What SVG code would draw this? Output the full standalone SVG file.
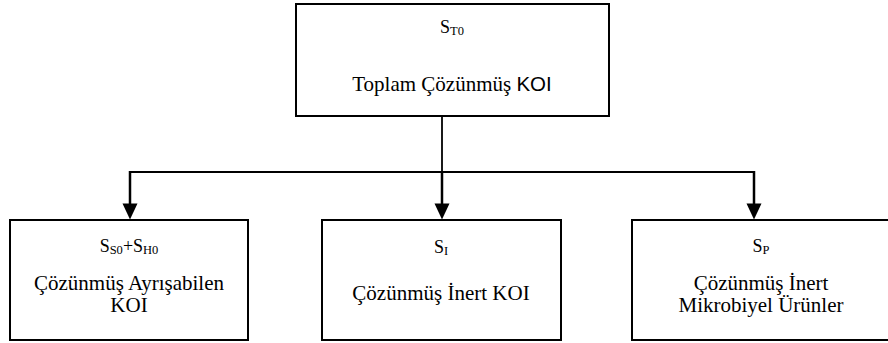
<svg xmlns="http://www.w3.org/2000/svg" width="888" height="343" viewBox="0 0 888 343">
<style>
.box{fill:#fff;stroke:#000;stroke-width:2}
.ln{fill:none;stroke:#000;stroke-width:1.8}
.br{fill:none;stroke:#000;stroke-width:2.5}
.ah{fill:#000}
text{fill:#000}
</style>
<g id="connectors">
<line class="ln" x1="442" y1="116" x2="442" y2="172"/>
<line class="ln" x1="129.5" y1="172" x2="754" y2="172"/>
<line class="br" x1="130" y1="171" x2="130" y2="205"/>
<line class="br" x1="442" y1="172" x2="442" y2="205"/>
<line class="br" x1="754" y1="171" x2="754" y2="205"/>
<polygon class="ah" points="122.5,203.5 137.5,203.5 130,219.5"/>
<polygon class="ah" points="434.5,203.5 449.5,203.5 442,219.5"/>
<polygon class="ah" points="746.5,203.5 761.5,203.5 754,219.5"/>
</g>
<g id="node-top">
<rect class="box" x="296" y="4" width="313" height="112"/>
<text x="452" y="33" font-family="Liberation Serif, Times New Roman, serif" font-size="18" text-anchor="middle">S<tspan font-size="12.5" dy="1.5">T0</tspan></text>
<text x="452" y="90.5" font-family="Liberation Serif, Times New Roman, serif" font-size="21" text-anchor="middle">Toplam Çözünmüş <tspan font-family="Liberation Sans, Arial, sans-serif" font-size="20.5">KOI</tspan></text>
</g>
<g id="node-left">
<rect class="box" x="10" y="220" width="238" height="120"/>
<text x="129" y="252" font-family="Liberation Serif, Times New Roman, serif" font-size="18" text-anchor="middle">S<tspan font-size="12.5" dy="1.5">S0</tspan><tspan dy="-1.5">+S</tspan><tspan font-size="12.5" dy="1.5">H0</tspan></text>
<text x="129" y="290" font-family="Liberation Serif, Times New Roman, serif" font-size="21" text-anchor="middle">Çözünmüş Ayrışabilen</text>
<text x="129" y="312" font-family="Liberation Serif, Times New Roman, serif" font-size="21" text-anchor="middle">KOI</text>
</g>
<g id="node-middle">
<rect class="box" x="322" y="220" width="239" height="120"/>
<text x="441" y="253" font-family="Liberation Serif, Times New Roman, serif" font-size="18" text-anchor="middle">S<tspan font-size="12.5" dy="1.5">I</tspan></text>
<text x="441" y="300" font-family="Liberation Serif, Times New Roman, serif" font-size="21" text-anchor="middle">Çözünmüş İnert KOI</text>
</g>
<g id="node-right">
<rect class="box" x="632" y="220" width="258" height="120"/>
<text x="761" y="252" font-family="Liberation Serif, Times New Roman, serif" font-size="18" text-anchor="middle">S<tspan font-size="12.5" dy="1.5">P</tspan></text>
<text x="761" y="290" font-family="Liberation Serif, Times New Roman, serif" font-size="21" text-anchor="middle">Çözünmüş İnert</text>
<text x="761" y="312" font-family="Liberation Serif, Times New Roman, serif" font-size="21" text-anchor="middle">Mikrobiyel Ürünler</text>
</g>
</svg>
